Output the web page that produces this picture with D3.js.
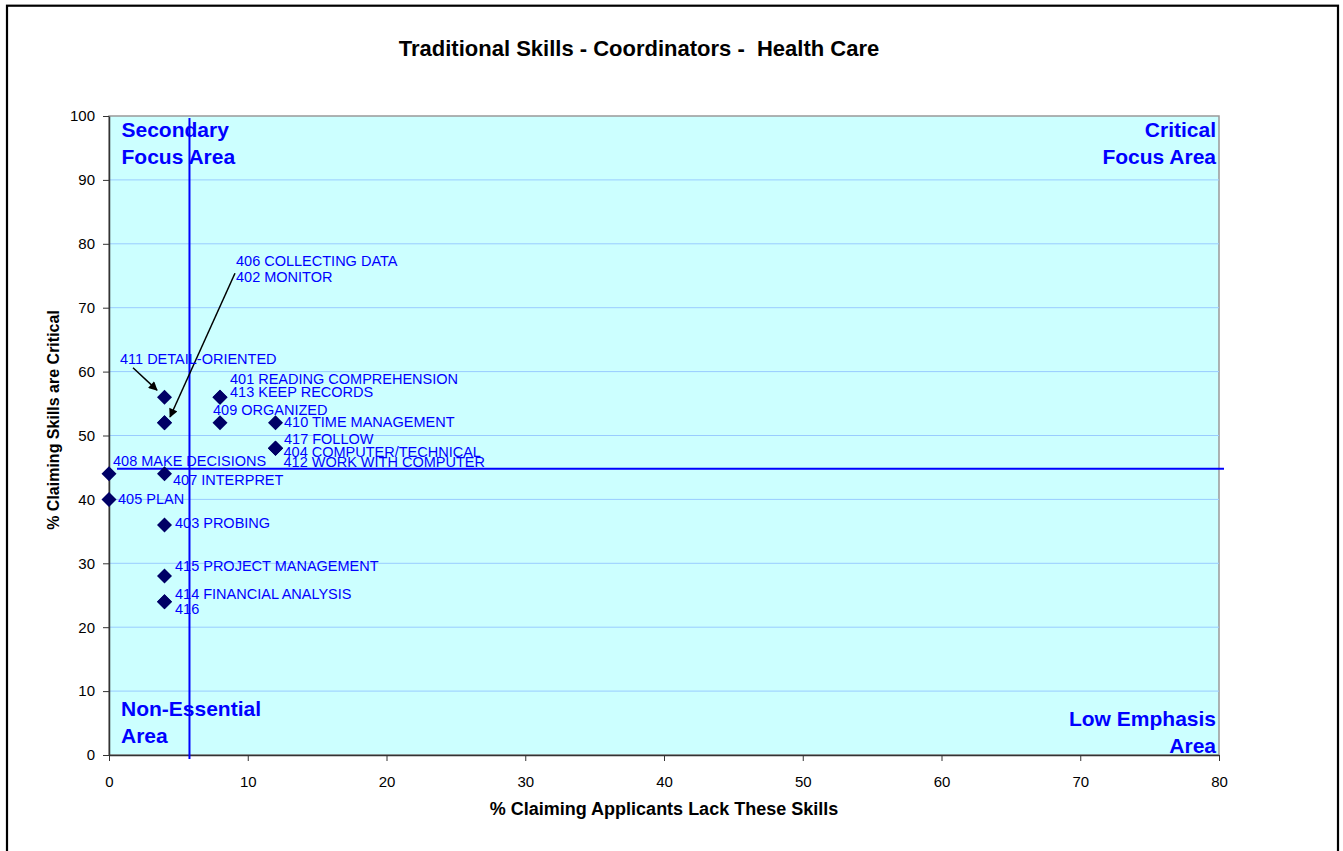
<!DOCTYPE html>
<html lang="en">
<head>
  <meta charset="UTF-8">
  <title>Traditional Skills - Coordinators - Health Care</title>
  <script src="https://d3js.org/d3.v7.min.js"></script>
  <style>
    body {
      margin: 0;
      background: white;
      font-family: Arial, "Liberation Sans", sans-serif;
    }
    svg { display: block; }
    .axis text { font-size: 15px; fill: #000; font-family: Arial, "Liberation Sans", sans-serif; }
    .axis path, .axis line { stroke: #333; }
  </style>
</head>
<body>
  <svg width="1343" height="851"></svg>

  <script>
    // skill labels and their values (% lacking, % critical)
    const skills = [
      "401 READING COMPREHENSION", "402 MONITOR", "403 PROBING", "404 COMPUTER/TECHNICAL",
      "405 PLAN", "406 COLLECTING DATA", "407 INTERPRET", "408 MAKE DECISIONS",
      "409 ORGANIZED", "410 TIME MANAGEMENT", "411 DETAIL-ORIENTED", "412 WORK WITH COMPUTER",
      "413 KEEP RECORDS", "414 FINANCIAL ANALYSIS", "415 PROJECT MANAGEMENT", "416", "417 FOLLOW"
    ];
    const lackPct = [8, 4, 4, 12, 0, 4, 4, 0, 8, 12, 4, 12, 8, 4, 4, 4, 12];
    const criticalPct = [56, 52, 36, 48, 40, 52, 44, 44, 52, 52, 56, 48, 56, 24, 28, 24, 48];

    const xTicks = [0, 10, 20, 30, 40, 50, 60, 70, 80];
    const yTicks = [0, 10, 20, 30, 40, 50, 60, 70, 80, 90, 100];

    // quadrant divider lines
    const dividerX = 5.8;
    const dividerY = 44.8;

    // label offsets from each point (px), same order as skills
    const labelOffsets = [
      [10, -13], [71.5, -141], [10.5, 3], [8, 8.4], [9, 4.6], [71.5, -157],
      [8.5, 11], [4, -8], [-7, -8], [8.5, 4.5], [-44.5, -33], [8, 19],
      [10, -0.5], [10.5, -2.6], [10.5, -5], [10.5, 12.4], [8.5, -4]
    ];

    // callout arrows in data units: [x1, y1, x2, y2]
    const arrows = [
      [1.73, 60.6, 3.46, 57.1],
      [9.08, 75.4, 4.4, 52.9]
    ];

    const svg = d3.select("svg");
    const margin = { left: 109, top: 116, right: 124, bottom: 96 };
    const W = 1343, H = 851;
    const w = W - margin.left - margin.right;
    const h = H - margin.top - margin.bottom;

    const x = d3.scaleLinear().domain([0, 80]).range([0, w]);
    const y = d3.scaleLinear().domain([0, 100]).range([h, 0]);

    // outer frame
    svg.append("rect")
      .attr("x", 7).attr("y", 5.7)
      .attr("width", 1331).attr("height", 900)
      .attr("fill", "none").attr("stroke", "#000").attr("stroke-width", 2.2);

    svg.append("defs").append("marker")
      .attr("id", "arrowhead")
      .attr("viewBox", "0 0 10 10")
      .attr("refX", 9).attr("refY", 5)
      .attr("markerWidth", 10).attr("markerHeight", 9)
      .attr("markerUnits", "userSpaceOnUse")
      .attr("orient", "auto")
      .append("path")
      .attr("d", "M0,0 L10,5 L0,10 z")
      .attr("fill", "#000");

    const g = svg.append("g").attr("transform", `translate(${margin.left},${margin.top})`);

    // plot background
    g.append("rect")
      .attr("width", w).attr("height", h)
      .attr("fill", "#ccffff")
      .attr("stroke", "#999").attr("stroke-width", 1.5);

    // gridlines
    g.selectAll(".grid")
      .data(yTicks.filter(t => t > 0 && t < 100))
      .enter().append("line")
      .attr("class", "grid")
      .attr("x1", 0).attr("x2", w)
      .attr("y1", d => y(d)).attr("y2", d => y(d))
      .attr("stroke", "#99ccff").attr("stroke-width", 1);

    // axes
    g.append("g")
      .attr("class", "axis")
      .call(d3.axisLeft(y).tickValues(yTicks).tickSize(6).tickPadding(8).tickSizeOuter(0));

    g.append("g")
      .attr("class", "axis")
      .attr("transform", `translate(0,${h})`)
      .call(d3.axisBottom(x).tickValues(xTicks).tickSize(6).tickPadding(15).tickSizeOuter(0));

    g.selectAll(".axis .domain").attr("stroke-width", 1.5);

    // quadrant dividers
    g.append("line")
      .attr("x1", x(dividerX)).attr("x2", x(dividerX))
      .attr("y1", y(100) + 2).attr("y2", y(0) + 4)
      .attr("stroke", "#0000ff").attr("stroke-width", 2);
    g.append("line")
      .attr("x1", x(0) + 8).attr("x2", x(80) + 5)
      .attr("y1", y(dividerY)).attr("y2", y(dividerY))
      .attr("stroke", "#0000ff").attr("stroke-width", 2);

    // quadrant labels
    const quad = g.append("g")
      .attr("font-weight", "bold").attr("font-size", "21px").attr("fill", "#0000ff");
    function quadLabel(lines, px, py, anchor) {
      const t = quad.append("text").attr("text-anchor", anchor);
      lines.forEach((s, i) => {
        t.append("tspan").attr("x", px).attr("y", py + i * 27).text(s);
      });
    }
    quadLabel(["Secondary", "Focus Area"], 12.5, 20.5, "start");
    quadLabel(["Critical", "Focus Area"], w - 3, 20.5, "end");
    quadLabel(["Non-Essential", "Area"], 12, 600, "start");
    quadLabel(["Low Emphasis", "Area"], w - 3, 610, "end");

    // callout arrows
    g.selectAll(".arrow")
      .data(arrows)
      .enter().append("line")
      .attr("class", "arrow")
      .attr("x1", d => x(d[0])).attr("y1", d => y(d[1]))
      .attr("x2", d => x(d[2])).attr("y2", d => y(d[3]))
      .attr("stroke", "#000").attr("stroke-width", 1.5)
      .attr("marker-end", "url(#arrowhead)");

    // points
    const pts = skills.map((s, i) => ({ name: s, lx: lackPct[i], cy: criticalPct[i], off: labelOffsets[i] }));

    g.selectAll(".pt")
      .data(pts)
      .enter().append("path")
      .attr("class", "pt")
      .attr("transform", d => `translate(${x(d.lx)},${y(d.cy)})`)
      .attr("d", "M0,-7.5 L7.5,0 L0,7.5 L-7.5,0 Z")
      .attr("fill", "#000066");

    g.selectAll(".lbl")
      .data(pts)
      .enter().append("text")
      .attr("class", "lbl")
      .attr("x", d => x(d.lx) + d.off[0])
      .attr("y", d => y(d.cy) + d.off[1])
      .attr("font-size", "14.5px")
      .attr("fill", "#0000ff")
      .text(d => d.name);

    // titles
    svg.append("text")
      .attr("x", 639).attr("y", 56)
      .attr("text-anchor", "middle")
      .attr("font-weight", "bold").attr("font-size", "22px")
      .style("white-space", "pre")
      .text("Traditional Skills - Coordinators -  Health Care");

    svg.append("text")
      .attr("x", margin.left + w / 2).attr("y", 815)
      .attr("text-anchor", "middle")
      .attr("font-weight", "bold").attr("font-size", "18px")
      .text("% Claiming Applicants Lack These Skills");

    svg.append("text")
      .attr("transform", `translate(59,${margin.top + 304}) rotate(-90)`)
      .attr("text-anchor", "middle")
      .attr("font-weight", "bold").attr("font-size", "16px")
      .text("% Claiming Skills are Critical");
  </script>
</body>
</html>
